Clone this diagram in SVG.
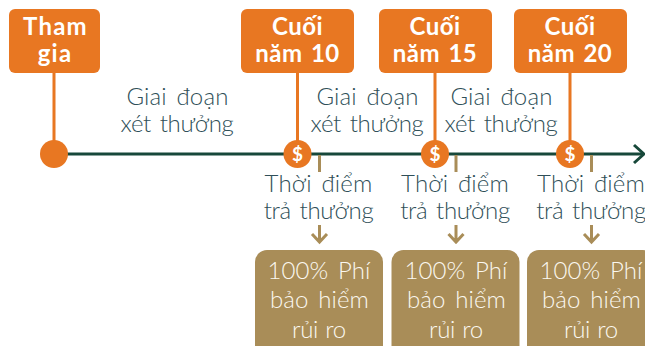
<svg xmlns="http://www.w3.org/2000/svg" width="645" height="346" viewBox="0 0 645 346">
<style>
text{font-family:"Lato","Noto Sans",sans-serif;text-anchor:middle}
.h{font-size:24px;font-weight:700;fill:#fff;word-spacing:2px;letter-spacing:.5px}
.w{letter-spacing:1.2px}
.l{font-size:24px;font-weight:300;fill:#2f4f58;word-spacing:3px;letter-spacing:.15px}
.n{letter-spacing:-.3px;word-spacing:2.500px}
.p{font-size:24px;font-weight:300;fill:#fbf8f0;word-spacing:3px;letter-spacing:.1px}
.r{letter-spacing:-.3px;word-spacing:1px}
.d{font-size:19px;font-weight:700;fill:#fff}
.o{fill:#e87722}
.b{fill:#a98d58}
.s{stroke:#e87722;stroke-width:3;fill:none}
.t{stroke:#a98d58;stroke-width:3;fill:none}
</style>
<defs>
<marker id="a" markerUnits="userSpaceOnUse" markerWidth="18" markerHeight="22" refX="15" refY="11" orient="auto"><path d="M5 2L15 11L5 20" fill="none" stroke="#17483a" stroke-width="3"/></marker>
</defs>
<g id="connectors">
<path d="M54 154H644" stroke="#17483a" stroke-width="3" fill="none" marker-end="url(#a)"/>
<path class="s" d="M54 70V145M297.500 70V145M435 70V145M570 70V145"/>
<path class="t" d="M319.500 155V172M456 155V172M591.500 155V172"/>
<path class="t" d="M319.500 225V242M312 234L319.500 242L327 234M456 225V242M448.500 234L456 242L463.500 234M591.500 225V242M584 234L591.500 242L599 234"/>
</g>
<g id="n-tham-gia"><rect class="o" x="9" y="9" width="91" height="64" rx="6"/><text class="h w" x="55.500" y="35">Tham</text><text class="h w" x="55" y="62">gia</text><circle class="o" cx="54" cy="154" r="14"/></g>
<g id="n-nam-10"><rect class="o" x="241" y="9" width="113" height="64" rx="6"/><text class="h" x="297.500" y="35">Cuối</text><text class="h" x="297.500" y="62">năm 10</text><circle class="o" cx="297.500" cy="154" r="14"/><text class="d" x="297.500" y="161">$</text></g>
<g id="n-nam-15"><rect class="o" x="379" y="9" width="113" height="64" rx="6"/><text class="h" x="435" y="35">Cuối</text><text class="h" x="435" y="62">năm 15</text><circle class="o" cx="435" cy="154" r="14"/><text class="d" x="435" y="161">$</text></g>
<g id="n-nam-20"><rect class="o" x="514" y="9" width="113" height="64" rx="6"/><text class="h" x="570" y="35">Cuối</text><text class="h" x="570" y="62">năm 20</text><circle class="o" cx="570" cy="154" r="14"/><text class="d" x="570" y="161">$</text></g>
<g id="l-giai-1"><text class="l" x="177.500" y="105">Giai đoạn</text><text class="l n" x="177" y="132">xét thưởng</text></g>
<g id="l-giai-2"><text class="l" x="367.500" y="105">Giai đoạn</text><text class="l n" x="367" y="132">xét thưởng</text></g>
<g id="l-giai-3"><text class="l" x="501.500" y="105">Giai đoạn</text><text class="l n" x="501" y="132">xét thưởng</text></g>
<g id="l-tra-1"><text class="l" x="318.500" y="192">Thời điểm</text><text class="l n" x="318.500" y="219">trả thưởng</text></g>
<g id="l-tra-2"><text class="l" x="455" y="192">Thời điểm</text><text class="l n" x="455" y="219">trả thưởng</text></g>
<g id="l-tra-3"><text class="l" x="591" y="192">Thời điểm</text><text class="l n" x="591" y="219">trả thưởng</text></g>
<g id="n-phi-1"><rect class="b" x="255" y="250" width="128" height="110" rx="12"/><text class="p" x="319" y="279">100% Phí</text><text class="p" x="319.500" y="308">bảo hiểm</text><text class="p r" x="319" y="338">rủi ro</text></g>
<g id="n-phi-2"><rect class="b" x="391.500" y="250" width="128" height="110" rx="12"/><text class="p" x="456" y="279">100% Phí</text><text class="p" x="456.500" y="308">bảo hiểm</text><text class="p r" x="456" y="338">rủi ro</text></g>
<g id="n-phi-3"><rect class="b" x="527" y="250" width="128" height="110" rx="12"/><text class="p" x="591" y="279">100% Phí</text><text class="p" x="591.500" y="308">bảo hiểm</text><text class="p r" x="591" y="338">rủi ro</text></g>
</svg>
